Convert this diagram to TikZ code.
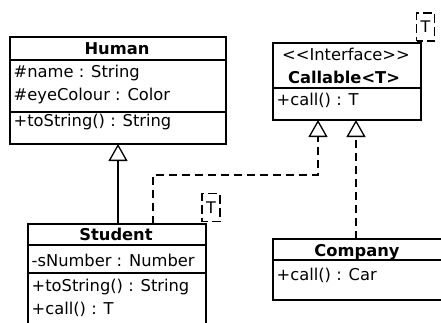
\documentclass[tikz,border=0pt]{standalone}
\usepackage{fontspec}
\setmainfont{DejaVu Sans}
\usetikzlibrary{arrows.meta,calc}
\begin{document}
\begin{tikzpicture}[x=1pt,y=-1pt,
  classbox/.style={draw,line width=1.5pt,anchor=north west,inner sep=0pt,outer sep=0pt},
  ttl/.style={font=\fontsize{16.3}{19}\selectfont\bfseries,inner sep=0pt},
  member/.style={font=\fontsize{16.3}{19}\selectfont,anchor=west,inner sep=0pt},
  divider/.style={line width=1.5pt},
  tparam/.style={draw,dash pattern=on 9pt off 4pt,dash phase=3pt,line width=1.1pt,
    font=\fontsize{16}{19}\selectfont,minimum width=18pt,minimum height=28pt,inner sep=0pt},
  gen/.style={line width=1.3pt,-{Triangle[open,length=17pt,width=19pt]}},
  real/.style={gen,dash pattern=on 8pt off 5pt}
]
\useasboundingbox (0,0) rectangle (441,322);
\clip (0,0) rectangle (441,322);

% class Human
\node[classbox,minimum width=216pt,minimum height=107pt] (human) at (10,37) {};
\node[ttl] (humanT) at (117,48.5) {Human};
\draw[divider] ($(human.north west)+(0,23)$) -- ($(human.north east)+(0,23)$);
\node[member] (humanA1) at (13.5,73) {\#name : String};
\node[member] (humanA2) at (13.5,96) {\#eyeColour : Color};
\draw[divider] ($(human.north west)+(0,75)$) -- ($(human.north east)+(0,75)$);
\node[member] (humanM1) at (13.5,122) {+toString() : String};

% interface Callable<T>
\node[classbox,minimum width=148pt,minimum height=77pt] (callable) at (273,43) {};
\node[member,anchor=center] (callableS) at (346,54) {<{}<Interface>{}>};
\node[ttl] (callableT) at (344,77) {Callable<T>};
\draw[divider] ($(callable.north west)+(0,45)$) -- ($(callable.north east)+(0,45)$);
\node[member] (callableM1) at (276.5,100) {+call() : T};
\node[tparam] (callableP) at (425.5,27) {T};

% class Student
\node[classbox,minimum width=178pt,minimum height=120pt] (student) at (28,224) {};
\node[ttl] (studentT) at (116,234.5) {Student};
\draw[divider] ($(student.north west)+(0,21)$) -- ($(student.north east)+(0,21)$);
\node[member] (studentA1) at (31.5,260) {-sNumber : Number};
\draw[divider] ($(student.north west)+(0,49)$) -- ($(student.north east)+(0,49)$);
\node[member] (studentM1) at (31.5,287) {+toString() : String};
\node[member] (studentM2) at (31.5,309) {+call() : T};
\node[tparam] (studentP) at (211,207.5) {T};

% class Company
\node[classbox,minimum width=170pt,minimum height=61pt] (company) at (273,239) {};
\node[ttl] (companyT) at (357,252) {Company};
\draw[divider] ($(company.north west)+(0,21)$) -- ($(company.north east)+(0,21)$);
\node[member] (companyM1) at (276.5,275) {+call() : Car};

% generalisation and realisations
\draw[gen] (human.south |- student.north) -- (human.south);
\coordinate (bendL) at (153,175);
\coordinate (bendR) at (318,175);
\coordinate (compX) at (356,0);
\draw[real] (student.north -| bendL) -- (bendL) -- (bendR) -- (callable.south -| bendR);
\draw[real] (company.north -| compX) -- (callable.south -| compX);
\end{tikzpicture}
\end{document}
